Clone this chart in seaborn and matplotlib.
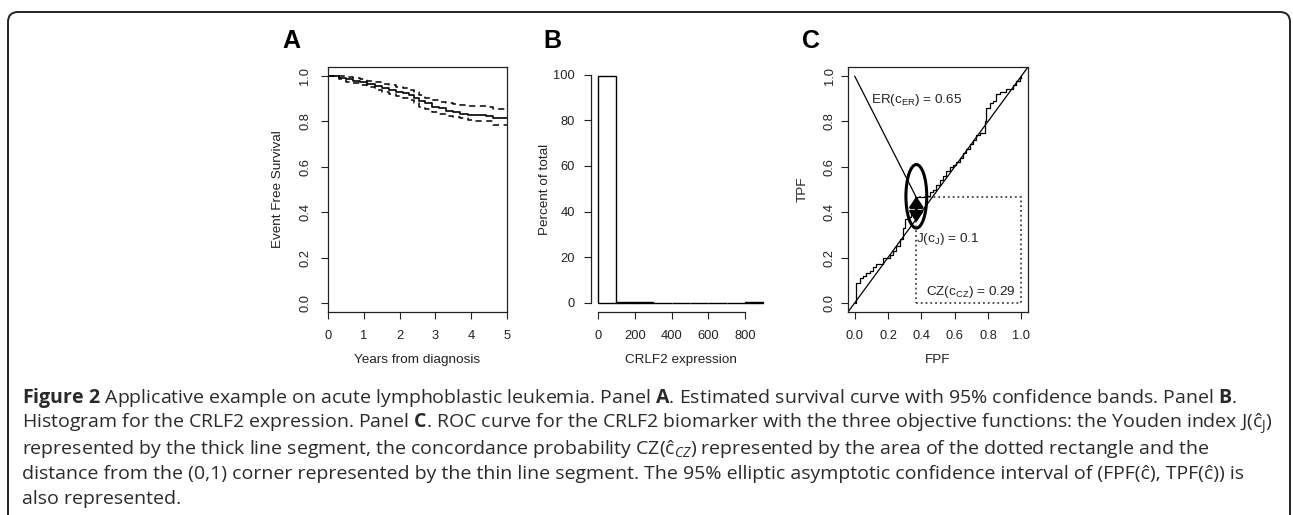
import matplotlib
matplotlib.use("Agg")
import matplotlib.pyplot as plt
import seaborn as sns
import pandas as pd
import numpy as np
from matplotlib.patches import Ellipse, Rectangle, FancyBboxPatch

# ---- panel A: survival curve with 95% bands
km_time = [0, 0.3, 0.5, 0.7, 0.9, 1.1, 1.3, 1.5, 1.7, 1.9, 2.1, 2.25, 2.4, 2.55,
           2.7, 2.9, 3.1, 3.3, 3.5, 3.7, 3.9, 4.1, 4.4, 4.6, 5.0]
km_surv = [1.0, 0.993, 0.985, 0.98, 0.975, 0.965, 0.958, 0.948, 0.94, 0.932, 0.926,
           0.918, 0.905, 0.89, 0.88, 0.865, 0.858, 0.848, 0.84, 0.833, 0.829, 0.827,
           0.824, 0.814, 0.814]
km_upper = [1.0, 1.0, 0.995, 0.99, 0.986, 0.98, 0.974, 0.966, 0.96, 0.953, 0.947,
            0.94, 0.93, 0.917, 0.905, 0.893, 0.887, 0.882, 0.877, 0.872, 0.869, 0.866,
            0.862, 0.853, 0.853]
km_lower = [1.0, 0.985, 0.975, 0.968, 0.962, 0.95, 0.94, 0.93, 0.92, 0.911, 0.904,
            0.895, 0.88, 0.864, 0.855, 0.843, 0.835, 0.826, 0.82, 0.813, 0.808, 0.803,
            0.8, 0.786, 0.784]

# ---- panel B: histogram of CRLF2 expression (bins of 100)
bin_edges = [0, 100, 200, 300, 400, 500, 600, 700, 800, 900]
bin_pct = [99.3, 0.5, 0.2, 0, 0, 0, 0, 0, 0.2]

# ---- panel C: ROC curve (step corners)
roc_fpf = [0.00, 0.01, 0.03, 0.05, 0.07, 0.09, 0.11, 0.13, 0.15, 0.17, 0.19, 0.21, 0.23,
           0.25, 0.27, 0.29, 0.30, 0.32, 0.34, 0.37, 0.43, 0.45, 0.47, 0.49, 0.51, 0.53,
           0.55, 0.57, 0.59, 0.61, 0.63, 0.65, 0.67, 0.69, 0.71, 0.73, 0.75, 0.78, 0.79,
           0.81, 0.83, 0.85, 0.87, 0.89, 0.91, 0.93, 0.95, 0.97, 0.99, 1.00]
roc_tpf = [0.00, 0.09, 0.11, 0.12, 0.13, 0.14, 0.16, 0.17, 0.17, 0.20, 0.20, 0.21, 0.23,
           0.25, 0.28, 0.33, 0.37, 0.38, 0.39, 0.465, 0.47, 0.49, 0.50, 0.52, 0.54, 0.56,
           0.58, 0.60, 0.61, 0.62, 0.64, 0.66, 0.68, 0.70, 0.72, 0.74, 0.75, 0.80, 0.86,
           0.88, 0.89, 0.92, 0.93, 0.93, 0.945, 0.945, 0.96, 0.98, 0.99, 1.00]
opt_fpf, opt_tpf = 0.37, 0.465
ell_w, ell_h = 0.125, 0.28
ell_cy = 0.47
er_label = r"ER(c$_\mathsf{ER}$) = 0.65"
j_label = r"J(c$_\mathsf{J}$) = 0.1"
cz_label = r"CZ(c$_\mathsf{CZ}$) = 0.29"

caption = [
    r"$\mathbf{Figure\ 2}$ Applicative example on acute lymphoblastic leukemia. Panel $\mathbf{A}$. "
    r"Estimated survival curve with 95% confidence bands. Panel $\mathbf{B}$.",
    r"Histogram for the CRLF2 expression. Panel $\mathbf{C}$. ROC curve for the CRLF2 biomarker "
    r"with the three objective functions: the Youden index J(ĉ$_\mathrm{J}$)",
    r"represented by the thick line segment, the concordance probability CZ(ĉ$_\mathit{CZ}$) "
    r"represented by the area of the dotted rectangle and the",
    "distance from the (0,1) corner represented by the thin line segment. The 95% elliptic "
    "asymptotic confidence interval of (FPF(ĉ), TPF(ĉ)) is",
    "also represented.",
]

W, H = 1293, 515


def box(l, r, t, b):
    return [l / W, 1 - b / H, (r - l) / W, (b - t) / H]


sns.set_style("ticks")
plt.rcParams["font.family"] = ["Liberation Sans", "DejaVu Sans"]
plt.rcParams["mathtext.fontset"] = "custom"
plt.rcParams["mathtext.rm"] = "Open Sans"
plt.rcParams["mathtext.it"] = "Open Sans:italic"
plt.rcParams["mathtext.bf"] = "Open Sans:bold"
plt.rcParams["mathtext.sf"] = "Liberation Sans"

fig = plt.figure(figsize=(12.93, 5.15), dpi=100)

# background: rounded frame + caption, in pixel units
bg = fig.add_axes([0, 0, 1, 1])
bg.set_xlim(0, W)
bg.set_ylim(H, 0)
bg.axis("off")
bg.add_patch(FancyBboxPatch((8, 12), 1282, 540, boxstyle="round,pad=0,rounding_size=10",
                            fill=False, lw=1.4, ec="#222222"))
for i, line in enumerate(caption):
    bg.text(22, 403 + i * 25.3, line, fontsize=14, family="Open Sans", color="#2a2a2a",
            va="baseline", ha="left")

ink = "#222222"


def style(ax, l, r, t, b, ylab_x, ylab_pad, rot=True):
    ax.tick_params(direction="out", length=5, width=0.8, labelsize=9.3, color=ink,
                   labelcolor=ink)
    ax.tick_params(axis="x", pad=8)
    ax.tick_params(axis="y", pad=ylab_pad)
    for s in ax.spines.values():
        s.set_linewidth(0.9)
        s.set_color(ink)
    if rot:
        ax.tick_params(axis="y", labelrotation=90)
        for lab in ax.get_yticklabels():
            lab.set_va("center")
    ax.xaxis.label.set_va("center")
    ax.xaxis.set_label_coords(0.5, (b - 360) / (b - t))
    ax.yaxis.label.set_va("center")
    ax.yaxis.set_label_coords((ylab_x - l) / (r - l), 0.5)
    ax.xaxis.label.set_size(9.7)
    ax.yaxis.label.set_size(9.7)
    ax.xaxis.label.set_color(ink)
    ax.yaxis.label.set_color(ink)


# ---- A
axA = fig.add_axes(box(328, 507, 67, 312))
sns.lineplot(x=km_time, y=km_surv, ax=axA, drawstyle="steps-post", color="black",
             lw=1.2, estimator=None)
for band in (km_upper, km_lower):
    sns.lineplot(x=km_time, y=band, ax=axA, drawstyle="steps-post", color="black",
                 lw=1.1, estimator=None, linestyle=(0, (4, 3)))
axA.set_xlim(0, 5)
axA.set_ylim(-0.04, 1.04)
axA.set_xticks(range(6))
axA.set_yticks([0, 0.2, 0.4, 0.6, 0.8, 1.0])
axA.set_yticklabels(["0.0", "0.2", "0.4", "0.6", "0.8", "1.0"])
axA.set_xlabel("Years from diagnosis")
axA.set_ylabel("Event Free Survival")
style(axA, 328, 507, 67, 312, 278, 7)

# ---- B
axB = fig.add_axes(box(591.4, 770, 67, 312))
mids = [(a + b) / 2 for a, b in zip(bin_edges[:-1], bin_edges[1:])]
sns.histplot(x=mids, weights=bin_pct, bins=bin_edges, ax=axB, fill=False,
             color="black", linewidth=1.0)
axB.set_xlim(-36, 936)
axB.set_ylim(-3.97, 103.3)
axB.set_xticks([0, 200, 400, 600, 800])
axB.set_yticks([0, 20, 40, 60, 80, 100])
axB.spines["top"].set_visible(False)
axB.spines["right"].set_visible(False)
axB.spines["left"].set_bounds(0, 100)
axB.spines["bottom"].set_bounds(0, 800)
axB.set_xlabel("CRLF2 expression")
axB.set_ylabel("Percent of total")
style(axB, 591.4, 770, 67, 312, 545, 7, rot=False)

# ---- C
axC = fig.add_axes(box(848, 1028, 67, 312))
sns.lineplot(x=roc_fpf, y=roc_tpf, ax=axC, drawstyle="steps-post", color="black",
             lw=0.9, estimator=None, sort=False)
axC.axline((0, 0), (1, 1), color="black", lw=0.9)
sns.lineplot(x=[0, opt_fpf], y=[1, opt_tpf], ax=axC, color="black", lw=0.9,
             estimator=None, sort=False)
axC.add_patch(Ellipse((opt_fpf, ell_cy), ell_w, ell_h, fill=False, lw=2.2, ec="black"))
axC.annotate("", xy=(opt_fpf, opt_tpf + 0.005), xytext=(opt_fpf, opt_fpf - 0.015),
             arrowprops=dict(arrowstyle="<|-|>,head_length=0.45,head_width=0.3",
                             lw=2.0, color="black", mutation_scale=14,
                             shrinkA=0, shrinkB=0))
axC.add_patch(Rectangle((opt_fpf, 0), 1 - opt_fpf, opt_tpf, fill=False, ls=":",
                        lw=1.3, ec="#444444"))
axC.text(0.10, 0.895, er_label, fontsize=9.7, va="center", ha="left", color=ink)
axC.text(0.37, 0.28, j_label, fontsize=9.7, va="center", ha="left", color=ink)
axC.text(0.43, 0.05, cz_label, fontsize=9.7, va="center", ha="left", color=ink)
axC.set_xlim(-0.04, 1.04)
axC.set_ylim(-0.04, 1.04)
ticks = [0, 0.2, 0.4, 0.6, 0.8, 1.0]
tick_labels = ["0.0", "0.2", "0.4", "0.6", "0.8", "1.0"]
axC.set_xticks(ticks)
axC.set_xticklabels(tick_labels)
axC.set_yticks(ticks)
axC.set_yticklabels(tick_labels)
axC.set_xlabel("FPF")
axC.set_ylabel("TPF")
style(axC, 848, 1028, 67, 312, 803, 4)

for letter, x in (("A", 291), ("B", 552), ("C", 811)):
    fig.text(x / W, 1 - 41 / H, letter, fontsize=18, fontweight="bold",
             ha="center", va="center", color="black")

fig.savefig("out.png", dpi=100)
